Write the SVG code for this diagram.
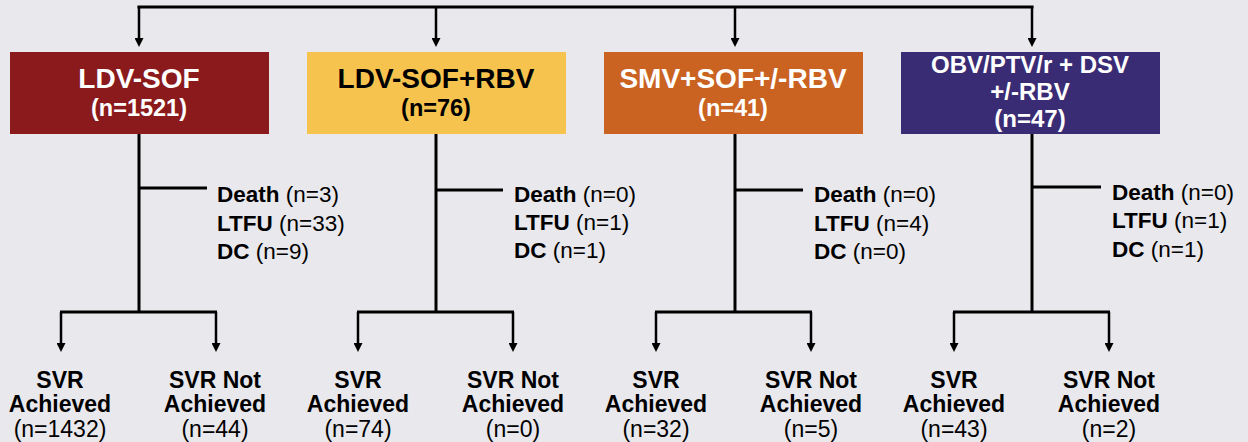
<svg xmlns="http://www.w3.org/2000/svg" width="1248" height="442" viewBox="0 0 1248 442">
<defs>
<marker id="ah" viewBox="0 0 10 10" refX="0" refY="5" markerWidth="9" markerHeight="9" markerUnits="userSpaceOnUse" orient="auto">
<path d="M0,0 L10,5 L0,10 z" fill="#000"/>
</marker>
<style>
.ln{stroke:#000;stroke-width:3;fill:none}
.ar{stroke:#000;stroke-width:2.5;fill:none;marker-end:url(#ah)}
text{font-family:"Liberation Sans",Arial,Helvetica,sans-serif}
.t1{font-size:28px;font-weight:bold;text-anchor:middle}
.t2{font-size:23.5px;font-weight:bold;text-anchor:middle}
.t4{font-size:24px;font-weight:bold;text-anchor:middle}
.side{font-size:22.5px}
.side tspan.b{font-weight:bold}
.out{font-size:23px;text-anchor:middle}
.out .b{font-weight:bold}
.w{fill:#fff}
.k{fill:#000}
</style>
</defs>
<rect width="1248" height="442" fill="#E9E8ED"/>
<g id="connectors">
<path class="ln" d="M139,7 H1032" stroke-linecap="square"/>
<path class="ar" d="M139,6 V38"/>
<path class="ar" d="M436,7 V38"/>
<path class="ar" d="M735,7 V38"/>
<path class="ar" d="M1032,6 V38"/>
<path class="ln" d="M139,134 V312"/>
<path class="ln" d="M139,188 H207"/>
<path class="ar" d="M61,312 V343"/>
<path class="ar" d="M216,312 V343"/>
<path class="ln" d="M60,312 H217"/>
<path class="ln" d="M436,134 V312"/>
<path class="ln" d="M436,190 H503"/>
<path class="ln" d="M357,312 H514"/>
<path class="ar" d="M358,312 V343"/>
<path class="ar" d="M513,312 V343"/>
<path class="ln" d="M735,134 V312"/>
<path class="ln" d="M735,190 H803"/>
<path class="ln" d="M655,312 H812"/>
<path class="ar" d="M656,312 V343"/>
<path class="ar" d="M811,312 V343"/>
<path class="ln" d="M1032,134 V312"/>
<path class="ln" d="M1032,187 H1101"/>
<path class="ln" d="M953,312 H1110"/>
<path class="ar" d="M954,312 V343"/>
<path class="ar" d="M1109,312 V343"/>
</g>
<g id="box1">
<rect x="10" y="52" width="259" height="82" fill="#8B1A1C"/>
<text class="t1 w" x="139" y="88">LDV-SOF</text>
<text class="t2 w" x="139" y="116">(n=1521)</text>
</g>
<g id="box2">
<rect x="307" y="52" width="259" height="82" fill="#F6C44E"/>
<text class="t1 k" x="436" y="88">LDV-SOF+RBV</text>
<text class="t2 k" x="436" y="116">(n=76)</text>
</g>
<g id="box3">
<rect x="604" y="52" width="259" height="82" fill="#CA6222"/>
<text class="t1 w" x="733" y="88">SMV+SOF+/-RBV</text>
<text class="t2 w" x="733" y="116">(n=41)</text>
</g>
<g id="box4">
<rect x="901" y="52" width="259" height="82" fill="#3A2C74"/>
<text class="t4 w" x="1030" y="73">OBV/PTV/r + DSV</text>
<text class="t4 w" x="1030" y="100">+/-RBV</text>
<text class="t4 w" x="1030" y="127">(n=47)</text>
</g>
<g id="loss1">
<text class="side" x="217" y="202"><tspan class="b">Death</tspan> (n=3)</text>
<text class="side" x="217" y="231"><tspan class="b">LTFU</tspan> (n=33)</text>
<text class="side" x="217" y="259"><tspan class="b">DC</tspan> (n=9)</text>
</g>
<g id="loss2">
<text class="side" x="514" y="202"><tspan class="b">Death</tspan> (n=0)</text>
<text class="side" x="514" y="230"><tspan class="b">LTFU</tspan> (n=1)</text>
<text class="side" x="514" y="258"><tspan class="b">DC</tspan> (n=1)</text>
</g>
<g id="loss3">
<text class="side" x="814" y="202"><tspan class="b">Death</tspan> (n=0)</text>
<text class="side" x="814" y="231"><tspan class="b">LTFU</tspan> (n=4)</text>
<text class="side" x="814" y="259"><tspan class="b">DC</tspan> (n=0)</text>
</g>
<g id="loss4">
<text class="side" x="1112" y="200"><tspan class="b">Death</tspan> (n=0)</text>
<text class="side" x="1112" y="228"><tspan class="b">LTFU</tspan> (n=1)</text>
<text class="side" x="1112" y="257"><tspan class="b">DC</tspan> (n=1)</text>
</g>
<g id="svr1a"><text class="out" x="60" y="388"><tspan class="b" x="60">SVR</tspan><tspan class="b" x="60" y="412">Achieved</tspan><tspan x="60" y="437">(n=1432)</tspan></text></g>
<g id="svr1b"><text class="out" x="215" y="388"><tspan class="b" x="215">SVR Not</tspan><tspan class="b" x="215" y="412">Achieved</tspan><tspan x="215" y="437">(n=44)</tspan></text></g>
<g id="svr2a"><text class="out" x="358" y="388"><tspan class="b" x="358">SVR</tspan><tspan class="b" x="358" y="412">Achieved</tspan><tspan x="358" y="437">(n=74)</tspan></text></g>
<g id="svr2b"><text class="out" x="513" y="388"><tspan class="b" x="513">SVR Not</tspan><tspan class="b" x="513" y="412">Achieved</tspan><tspan x="513" y="437">(n=0)</tspan></text></g>
<g id="svr3a"><text class="out" x="656" y="388"><tspan class="b" x="656">SVR</tspan><tspan class="b" x="656" y="412">Achieved</tspan><tspan x="656" y="437">(n=32)</tspan></text></g>
<g id="svr3b"><text class="out" x="811" y="388"><tspan class="b" x="811">SVR Not</tspan><tspan class="b" x="811" y="412">Achieved</tspan><tspan x="811" y="437">(n=5)</tspan></text></g>
<g id="svr4a"><text class="out" x="954" y="388"><tspan class="b" x="954">SVR</tspan><tspan class="b" x="954" y="412">Achieved</tspan><tspan x="954" y="437">(n=43)</tspan></text></g>
<g id="svr4b"><text class="out" x="1109" y="388"><tspan class="b" x="1109">SVR Not</tspan><tspan class="b" x="1109" y="412">Achieved</tspan><tspan x="1109" y="437">(n=2)</tspan></text></g>
</svg>
